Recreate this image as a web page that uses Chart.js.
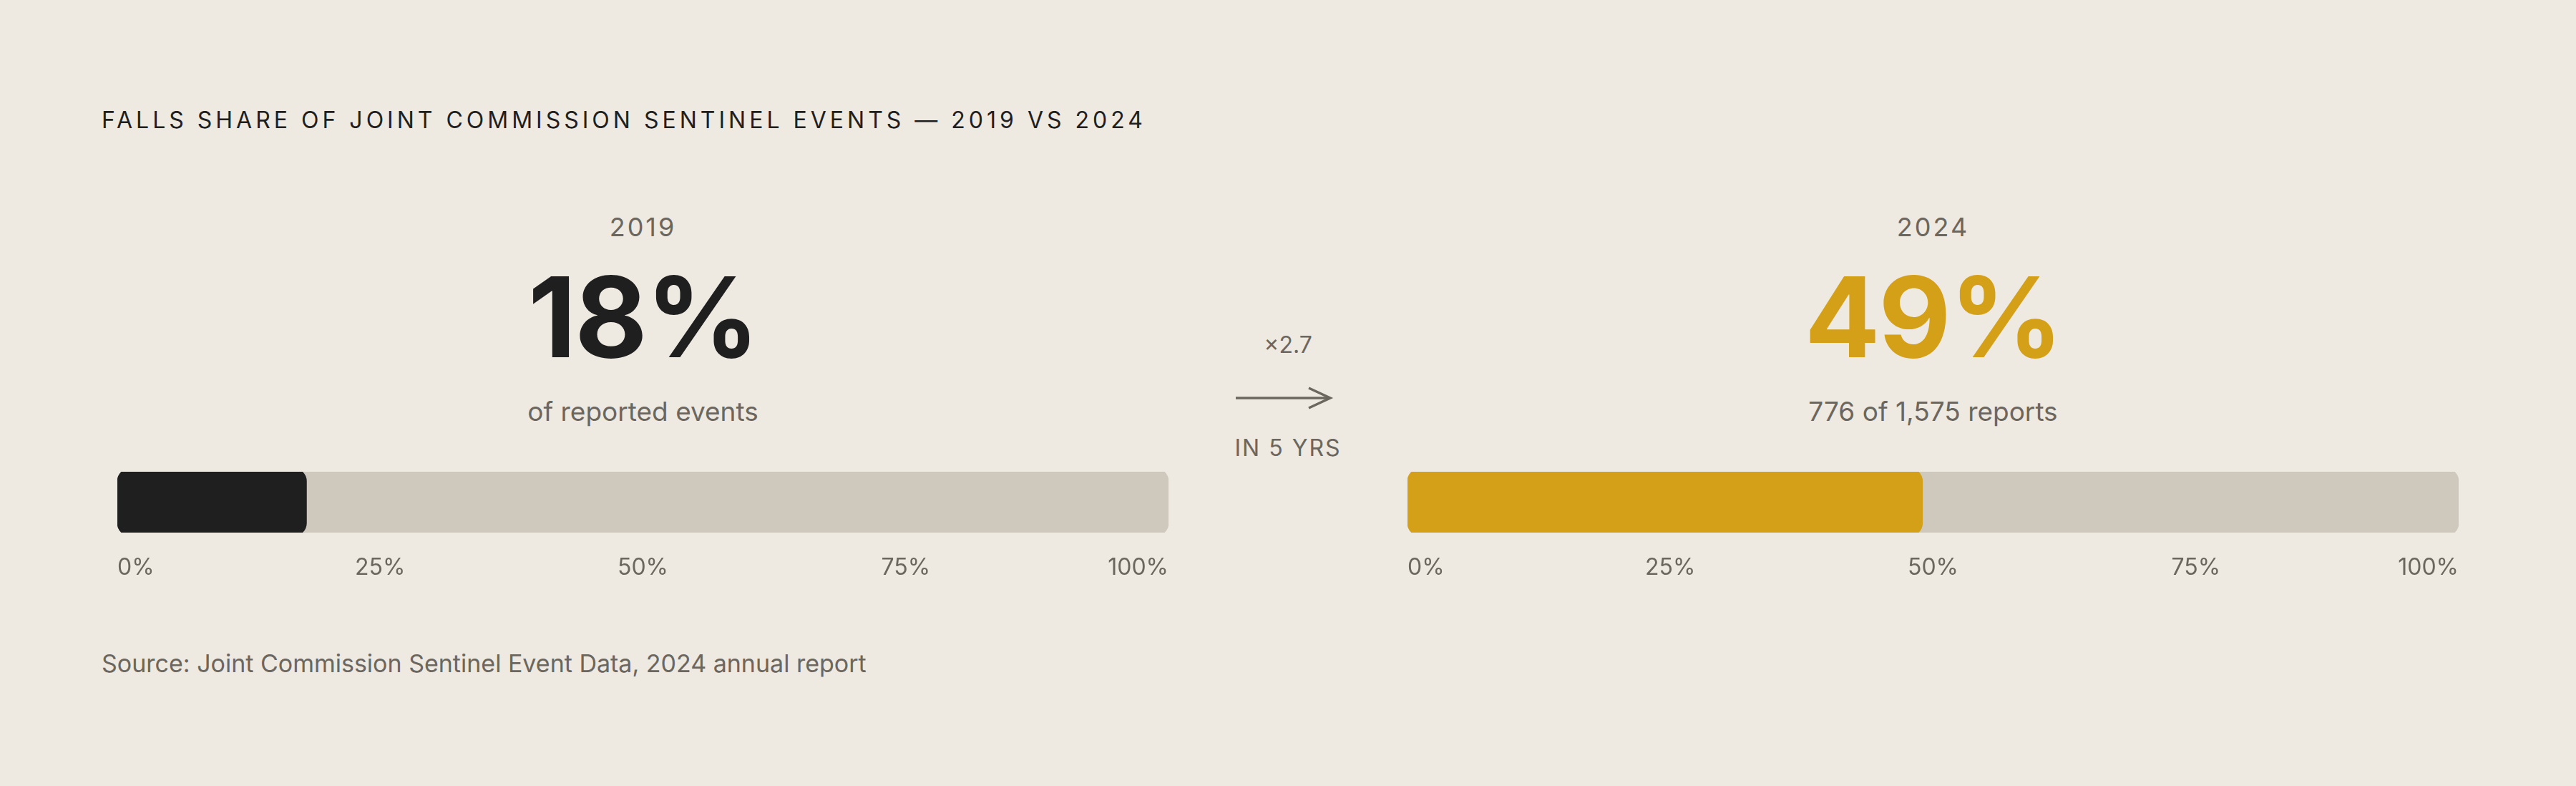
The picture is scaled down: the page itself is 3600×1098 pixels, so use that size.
<!DOCTYPE html>
<html><head><meta charset="utf-8">
<script src="https://cdn.jsdelivr.net/npm/chart.js@4/dist/chart.umd.min.js"></script>
<style>
  html,body{margin:0;padding:0;background:#EEE9E1;width:3600px;height:1098px;overflow:hidden;font-family:Inter,"Noto Sans",sans-serif;}
  .abs{position:absolute;}
  .title{left:142px;top:148px;font-size:32px;letter-spacing:5px;color:#1f1f1f;}
  .year{font-size:36px;letter-spacing:3px;color:#6b665e;width:1513px;text-align:center;top:295px;}
  .big{font-size:156px;font-weight:700;width:1513px;text-align:center;top:365px;line-height:1;letter-spacing:-2px;}
  .sub{font-size:37px;color:#6b665e;width:1513px;text-align:center;top:552px;}
  .mid{left:1690px;width:220px;text-align:center;color:#6b665e;font-size:32px;}
  .src{left:142px;top:906px;font-size:34px;color:#6b665e;}
  .box{width:1513px;height:170px;top:659px;}
</style></head><body>
<div class="abs title">FALLS SHARE OF JOINT COMMISSION SENTINEL EVENTS — 2019 VS 2024</div>

<div class="abs year" style="left:142px">2019</div>
<div class="abs big" style="left:142px;color:#1f1f1f">18%</div>
<div class="abs sub" style="left:142px">of reported events</div>

<div class="abs year" style="left:1945px">2024</div>
<div class="abs big" style="left:1945px;color:#D4A017">49%</div>
<div class="abs sub" style="left:1945px">776 of 1,575 reports</div>

<div class="abs mid" style="top:462px">×2.7</div>
<svg class="abs" style="left:1725px;top:540px" width="140" height="32"><line x1="2" y1="16" x2="133" y2="16" stroke="#6b665e" stroke-width="3.5"/><polyline points="104,2 134,16 104,30" fill="none" stroke="#6b665e" stroke-width="3.5"/></svg>
<div class="abs mid" style="top:606px;letter-spacing:2px">IN 5 YRS</div>

<div class="abs box" style="left:142px"><canvas id="c2019"></canvas></div>
<div class="abs box" style="left:1945px"><canvas id="c2024"></canvas></div>

<div class="abs src">Source: Joint Commission Sentinel Event Data, 2024 annual report</div>

<script>
const years = ['2019', '2024'];
const shares = [18, 49];
const barColors = ['#1F1F1F', '#D4A017'];
const trackMax = 100;
const tickValues = [0, 25, 50, 75, 100];

function drawBar(id, value, color){
  new Chart(document.getElementById(id), {
    type: 'bar',
    data: {
      labels: [''],
      datasets: [
        { data: [value], backgroundColor: color, borderRadius: 18, borderSkipped: false, barThickness: 94, grouped: false, order: 1 },
        { data: [trackMax], backgroundColor: '#CFC9BD', borderRadius: 18, borderSkipped: false, barThickness: 94, grouped: false, order: 2 }
      ]
    },
    options: {
      indexAxis: 'y',
      responsive: true,
      maintainAspectRatio: false,
      animation: false,
      layout: { padding: 0 },
      plugins: { legend: { display: false }, tooltip: { enabled: false } },
      scales: {
        y: { display: false },
        x: {
          min: 0, max: trackMax,
          grid: { display: false }, border: { display: false },
          afterBuildTicks: ax => { ax.ticks = tickValues.map(v => ({ value: v })); },
          ticks: { align: 'inner', padding: 22, color: '#6b665e', font: { family: 'Inter', size: 32 }, callback: v => v + '%', maxRotation: 0 }
        }
      }
    }
  });
}
drawBar('c2019', shares[0], barColors[0]);
drawBar('c2024', shares[1], barColors[1]);
</script>
</body></html>
